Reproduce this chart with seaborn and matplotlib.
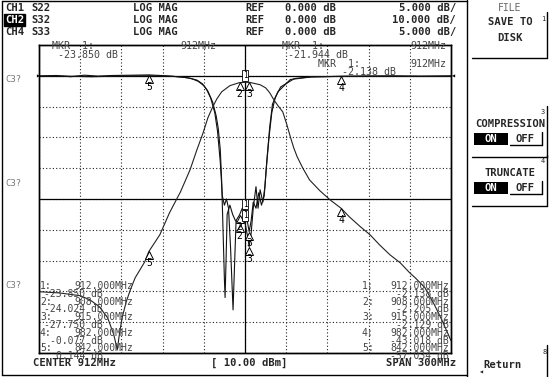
import numpy as np
import pandas as pd
import seaborn as sns
import matplotlib.pyplot as plt
import matplotlib.transforms as mtransforms
from matplotlib.patches import Rectangle
from matplotlib.lines import Line2D

# -------------------------------
# Trace data
# -------------------------------
freq_s32 = [762, 777, 792, 799, 806, 812, 816.5, 819, 820.5, 822.5,
            825.5, 828.5, 832, 835.5, 839, 842, 850, 857, 865, 872,
            877, 881.5, 885, 888.5, 891.5, 895, 901, 908, 912, 915,
            917, 923, 927, 930, 933, 936, 939.5, 942.5, 945, 947.5,
            950, 954, 959, 966.5, 974, 982, 988, 996, 1003, 1010,
            1017.5, 1025, 1032, 1036, 1043, 1050, 1056, 1062]
s32_db = [-70.1, -70.5, -71.4, -72.7, -75.0, -78.6, -84.1, -89.0, -84.0, -78.6,
          -73.4, -69.5, -65.6, -63.0, -60.4, -57.034, -51.6, -44.5, -37.7, -30.5,
          -24.0, -18.5, -13.6, -10.1, -7.5, -5.2, -3.2, -2.205, -2.138, -2.129,
          -2.3, -2.9, -3.9, -5.5, -7.8, -9.7, -11.7, -15.9, -19.8, -23.4,
          -26.3, -29.9, -33.8, -37.3, -40.3, -43.018, -45.8, -49.0, -51.6, -54.9,
          -58.1, -60.7, -64.0, -65.6, -68.8, -74.4, -79.9, -86.0]

freq_s22 = [762, 775, 785, 795, 805, 815, 830, 842, 855, 866,
            873, 878, 882, 885, 888.5, 891, 892.5, 894, 895, 896,
            897, 897.5, 898.2, 899, 901, 903, 905, 908, 910, 912,
            914, 915, 916.5, 918, 920, 921.5, 923, 925, 926.5, 928,
            930, 932, 936, 945, 960, 982, 1000, 1020, 1040, 1062]
s22_db = [0.0, 0.05, -0.15, 0.1, -0.05, 0.05, 0.1, 0.144, 0.0, -0.2,
          -0.45, -0.9, -1.6, -2.5, -4.3, -6.5, -8.5, -12.0, -17.0, -25.0,
          -33.0, -36.0, -30.0, -22.5, -21.0, -22.5, -23.5, -24.024, -23.3, -23.85,
          -26.2, -27.75, -25.5, -21.5, -18.0, -21.5, -18.5, -20.5, -18.0, -13.5,
          -8.3, -4.6, -2.6, -0.6, -0.2, -0.077, -0.05, 0.0, -0.05, 0.0]

freq_s33 = [762, 780, 800, 820, 842, 860, 870, 877, 881, 884,
            887, 890, 892, 894, 895.5, 897, 898.5, 900, 901.5, 903.3,
            904.5, 905.5, 908, 910, 912, 914, 915, 916.5, 918, 920,
            922, 924, 926, 927.5, 929.5, 931.5, 934, 938, 948, 960,
            982, 1000, 1030, 1062]
s33_db = [-0.1, -0.05, -0.15, -0.05, 0.0, -0.1, -0.3, -0.7, -1.3, -2.2,
          -3.6, -6.0, -9.0, -14.0, -19.5, -21.0, -20.0, -21.5, -28.0, -38.0,
          -30.0, -23.5, -22.6, -21.5, -21.944, -24.0, -25.3, -23.5, -20.5, -21.5,
          -19.0, -21.0, -19.5, -15.0, -10.0, -6.0, -3.5, -1.8, -0.45, -0.15,
          -0.1, -0.05, -0.1, -0.1]

# markers 1..5
marker_freq = [912, 908, 915, 982, 842]
s22_mkr = [-23.850, -24.024, -27.750, -0.077, 0.144]
s32_mkr = [-2.138, -2.205, -2.129, -43.018, -57.034]
s33_mkr = [-21.944, -22.6, -25.3]

W, H = 551, 377
GREY = "#444444"

sns.set_theme(style="white")
plt.rcParams['font.family'] = ['DejaVu Sans Mono', 'DejaVu Sans']

fig = plt.figure(figsize=(W / 100, H / 100), dpi=100)
fig.patch.set_facecolor("white")


def txt(x, y, s, **kw):
    kw.setdefault("va", "center")
    kw.setdefault("fontsize", 7.6)
    fig.text(x / W, 1 - y / H, s, **kw)


def seg(x0, y0, x1, y1, lw=1.0, color="black"):
    fig.add_artist(Line2D([x0 / W, x1 / W], [1 - y0 / H, 1 - y1 / H],
                          color=color, lw=lw))


# -------------------------------
# Graticule
# -------------------------------
ax = fig.add_axes([39 / W, 1 - 353 / H, 412 / W, 308 / H])
ax2 = ax.twinx()
ax.set_xlim(762, 1062)
ax.set_ylim(-45, 5)     # 5 dB/div, ref 0 dB
ax2.set_ylim(-90, 10)   # 10 dB/div, ref 0 dB

ax.set_xticks(np.linspace(762, 1062, 11))
ax.set_yticks(np.arange(-45, 6, 5))
ax.grid(True, color="#222222", lw=0.8, ls=(0, (1, 2)))
ax.tick_params(length=0, labelbottom=False, labelleft=False)
ax2.tick_params(length=0, labelright=False)
ax2.set_yticks([])
for a in (ax, ax2):
    for sp in a.spines.values():
        sp.set_color("black")
        sp.set_linewidth(1.0)

ax.axvline(912, color="black", lw=0.9)
ax.axhline(0, color="black", lw=0.9)
ax.axhline(-20, color="black", lw=0.9)

# -------------------------------
# Traces
# -------------------------------
s22 = pd.DataFrame({"f": freq_s22, "db": s22_db})
s33 = pd.DataFrame({"f": freq_s33, "db": s33_db})
s32 = pd.DataFrame({"f": freq_s32, "db": s32_db})
sns.lineplot(data=s22, x="f", y="db", ax=ax, color="#111111", lw=0.8)
sns.lineplot(data=s33, x="f", y="db", ax=ax, color="#111111", lw=0.8)
sns.lineplot(data=s32, x="f", y="db", ax=ax2, color="#222222", lw=0.8)
for a in (ax, ax2):
    a.set_xlabel("")
    a.set_ylabel("")
ax.set_xlim(762, 1062)


def draw_markers(a, vals):
    down = mtransforms.offset_copy(a.transData, fig=fig, x=0, y=-2.8, units="points")
    for i, (f, v) in enumerate(zip(marker_freq, vals)):
        n = i + 1
        if n == 1:
            a.annotate("1", (f, v), xytext=(0, 5), textcoords="offset points",
                       ha="center", va="center", fontsize=5.5, color="black",
                       bbox=dict(boxstyle="square,pad=0.12", fc="white", ec="black", lw=0.6))
        else:
            a.plot([f], [v], marker="^", ms=5.5, mfc="white", mec="black", mew=0.7,
                   transform=down, ls="none")
            a.annotate(str(n), (f, v), xytext=(0, -8.5), textcoords="offset points",
                       ha="center", va="center", fontsize=7, color="black")


draw_markers(ax, s22_mkr)
draw_markers(ax, s33_mkr)
draw_markers(ax2, s32_mkr)

# reference position arrows
txt(35, 76, "\u25b8", fontsize=6, color="black")
txt(450, 76, "\u25c2", fontsize=6, color="black")

# -------------------------------
# Screen annotations
# -------------------------------
seg(2, 1, 467, 1)
seg(2, 1, 2, 375)
seg(2, 375, 467, 375)
seg(467, 0, 467, 377)

rows = [("CH1", "S22", "5.000 dB/"), ("CH2", "S32", "10.000 dB/"), ("CH4", "S33", "5.000 dB/")]
for k, (ch, sp, scale) in enumerate(rows):
    y = 8 + 12 * k
    if ch == "CH2":
        txt(5, y, ch, weight="bold", color="white",
            bbox=dict(boxstyle="square,pad=0.1", fc="black", ec="black"))
    else:
        txt(5, y, ch, weight="bold")
    txt(31, y, sp, weight="bold")
    txt(133, y, "LOG MAG", weight="bold")
    txt(245, y, "REF", weight="bold")
    txt(285, y, "0.000 dB", weight="bold")
    txt(456, y, scale, weight="bold", ha="right")

for y in (80, 183, 285):
    txt(5, y, "C3?", color="#777777", fontsize=6.5)

# active marker readouts
txt(52, 46, "MKR  1:", color=GREY, fontsize=7.2)
txt(180, 46, "912MHz", color=GREY, fontsize=7.2)
txt(58, 55, f"{s22_mkr[0]:.3f} dB", color=GREY, fontsize=7.2)
txt(282, 46, "MKR  1:", color=GREY, fontsize=7.2)
txt(410, 46, "912MHz", color=GREY, fontsize=7.2)
txt(288, 55, f"{s33_mkr[0]:.3f} dB", color=GREY, fontsize=7.2)
txt(318, 64, "MKR  1:", color=GREY, fontsize=7.2)
txt(410, 64, "912MHz", color=GREY, fontsize=7.2)
txt(342, 72, f"{s32_mkr[0]:.3f} dB", color=GREY, fontsize=7.2)

# marker tables
for i, f in enumerate(marker_freq):
    y0 = 286 + 15.6 * i
    txt(40, y0, f"{i + 1}:", color=GREY, fontsize=7)
    txt(133, y0, f"{f:.3f}MHz", color=GREY, ha="right", fontsize=7)
    txt(103, y0 + 7.8, f"{s22_mkr[i]:.3f} dB", color=GREY, ha="right", fontsize=7)
    txt(362, y0, f"{i + 1}:", color=GREY, fontsize=7)
    txt(449, y0, f"{f:.3f}MHz", color=GREY, ha="right", fontsize=7)
    txt(449, y0 + 7.8, f"{s32_mkr[i]:.3f} dB", color=GREY, ha="right", fontsize=7)

txt(33, 363, "CENTER 912MHz", weight="bold")
txt(211, 363, "[ 10.00 dBm]", weight="bold")
txt(456, 363, "SPAN 300MHz", weight="bold", ha="right")

# -------------------------------
# Softkey menu
# -------------------------------
txt(510, 8, "FILE", color="#666666", ha="center", fontsize=7)
txt(510, 22, "SAVE TO", weight="bold", ha="center")
txt(510, 38, "DISK", weight="bold", ha="center")
txt(543, 19, "1", fontsize=5, ha="center")
seg(547, 12, 547, 58)
seg(472, 58, 547, 58)

for top, label, num in ((104, "COMPRESSION", "3"), (153, "TRUNCATE", "4")):
    txt(543, top + 8, num, fontsize=5, ha="center")
    txt(510, top + 20, label, weight="bold", ha="center")
    yb = top + 41
    fig.add_artist(Rectangle((474 / W, 1 - yb / H), 34 / W, 12 / H,
                             transform=fig.transFigure, fc="black", ec="none"))
    txt(491, yb - 6, "ON", weight="bold", color="white", ha="center")
    txt(525, yb - 6, "OFF", weight="bold", ha="center")
    seg(542, yb - 13, 542, yb)
    seg(510, yb, 542, yb)
    seg(547, top + 2, 547, top + 53)
    seg(472, top + 53, 547, top + 53)

txt(545, 352, "8", fontsize=5, ha="center")
txt(503, 365, "Return", weight="bold", ha="center")
seg(547, 345, 547, 377)
txt(478, 372, "\u25c2", fontsize=6)

plt.savefig("out.png", dpi=100, facecolor="white")
plt.close()
